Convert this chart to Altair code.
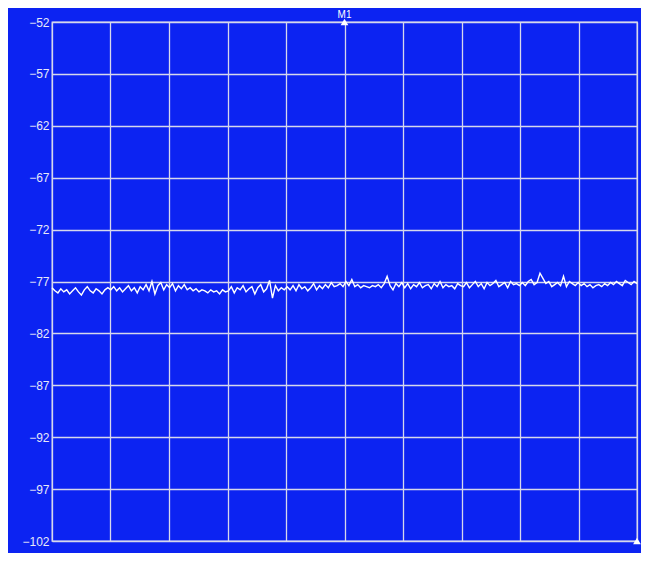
import altair as alt
import pandas as pd

# trace values (dBm), 200 points read across 10 grid columns
trace = [
    -77.6,-77.9,-78.1,-77.7,-78.0,-77.8,-78.2,-77.9,-77.6,-78.0,-78.3,-77.8,-77.5,-77.9,-78.1,-77.7,-77.9,-78.2,-77.8,-77.6,
    -77.8,-77.5,-77.9,-77.6,-78.0,-77.7,-77.4,-77.9,-77.6,-78.1,-77.5,-77.8,-77.3,-77.9,-77.0,-78.2,-77.4,-77.1,-77.8,-77.3,
    -77.6,-77.2,-77.9,-77.4,-77.7,-77.3,-77.8,-77.6,-77.9,-77.7,-78.0,-77.8,-77.9,-78.1,-77.8,-78.0,-77.9,-78.2,-77.8,-78.0,
    -77.9,-77.5,-78.1,-77.6,-77.8,-77.4,-78.0,-77.7,-77.5,-78.2,-77.6,-77.3,-78.0,-77.7,-76.9,-78.6,-77.4,-77.9,-77.6,-77.8,
    -77.5,-77.8,-77.4,-77.9,-77.3,-77.7,-77.5,-77.9,-77.6,-77.2,-77.8,-77.4,-77.7,-77.3,-77.6,-77.1,-77.5,-77.4,-77.2,-77.5,
    -77.0,-77.4,-76.8,-77.5,-77.3,-77.6,-77.4,-77.5,-77.6,-77.4,-77.5,-77.3,-77.6,-77.2,-76.5,-77.4,-77.8,-77.2,-77.5,-77.1,
    -77.6,-77.2,-77.7,-77.3,-77.5,-77.1,-77.6,-77.4,-77.3,-77.7,-77.2,-77.5,-77.0,-77.6,-77.3,-77.5,-77.4,-77.7,-77.2,-77.4,
    -77.5,-77.1,-77.6,-77.3,-77.0,-77.5,-77.2,-77.7,-77.1,-77.4,-77.2,-76.9,-77.5,-77.3,-77.1,-77.6,-77.0,-77.3,-77.2,-77.4,
    -77.1,-77.4,-77.0,-76.8,-77.3,-77.1,-76.2,-76.7,-77.2,-77.0,-77.5,-77.3,-77.1,-77.4,-76.5,-77.5,-77.0,-77.2,-77.4,-77.1,
    -77.4,-77.2,-77.5,-77.3,-77.6,-77.4,-77.3,-77.5,-77.2,-77.4,-77.1,-77.3,-77.0,-77.2,-77.4,-76.9,-77.1,-77.3,-77.0,-77.2,
]
y_ticks = [-52, -57, -62, -67, -72, -77, -82, -87, -92, -97, -102]
x_grid = [0, 19.9, 39.8, 59.7, 79.6, 99.5, 119.4, 139.3, 159.2, 179.1, 199]
marker_labels = ["M1", ""]
marker_x = [99.5, 199]
marker_y = [-52, -102]

BLUE = "#0c23f2"
GRID = "#d6d8ec"

df = pd.DataFrame({"idx": list(range(len(trace))), "level": trace})
mk = pd.DataFrame({"x": marker_x, "y": marker_y, "label": marker_labels})

xs = alt.Scale(domain=[0, 199], nice=False, zero=False)
ys = alt.Scale(domain=[-102, -52], nice=False, zero=False)

x_axis = alt.Axis(values=x_grid, labels=False, ticks=False, title=None, domain=False,
                  grid=True, gridColor=GRID, gridWidth=1.3, gridOpacity=1)
y_axis = alt.Axis(values=y_ticks, title=None, domain=False, ticks=False,
                  grid=True, gridColor=GRID, gridWidth=1.3, gridOpacity=1,
                  labelColor="#e8e8f8", labelFontSize=12, labelFont="Liberation Sans",
                  labelPadding=3, format="d")

line = alt.Chart(df).mark_line(color="white", strokeWidth=1.4).encode(
    x=alt.X("idx:Q", scale=xs, axis=x_axis),
    y=alt.Y("level:Q", scale=ys, axis=y_axis),
)

tri = alt.Chart(mk).mark_point(shape="triangle-up", filled=True, color="white",
                               size=60, opacity=1).encode(
    x=alt.X("x:Q", scale=xs), y=alt.Y("y:Q", scale=ys))

txt = alt.Chart(mk).mark_text(color="white", fontSize=10, dy=-2, baseline="bottom",
                              font="Liberation Sans").encode(
    x=alt.X("x:Q", scale=xs), y=alt.Y("y:Q", scale=ys), text="label:N")

chart = (line + tri + txt).properties(
    width=585, height=519,
    background=BLUE,
    padding={"left": 44, "top": 14, "right": 4, "bottom": 12},
    autosize=alt.AutoSizeParams(type="none"),
).configure_view(stroke=GRID, strokeWidth=1.3, fill=BLUE)

chart.save("out.html", embed_options={"renderer": "svg", "actions": False})
